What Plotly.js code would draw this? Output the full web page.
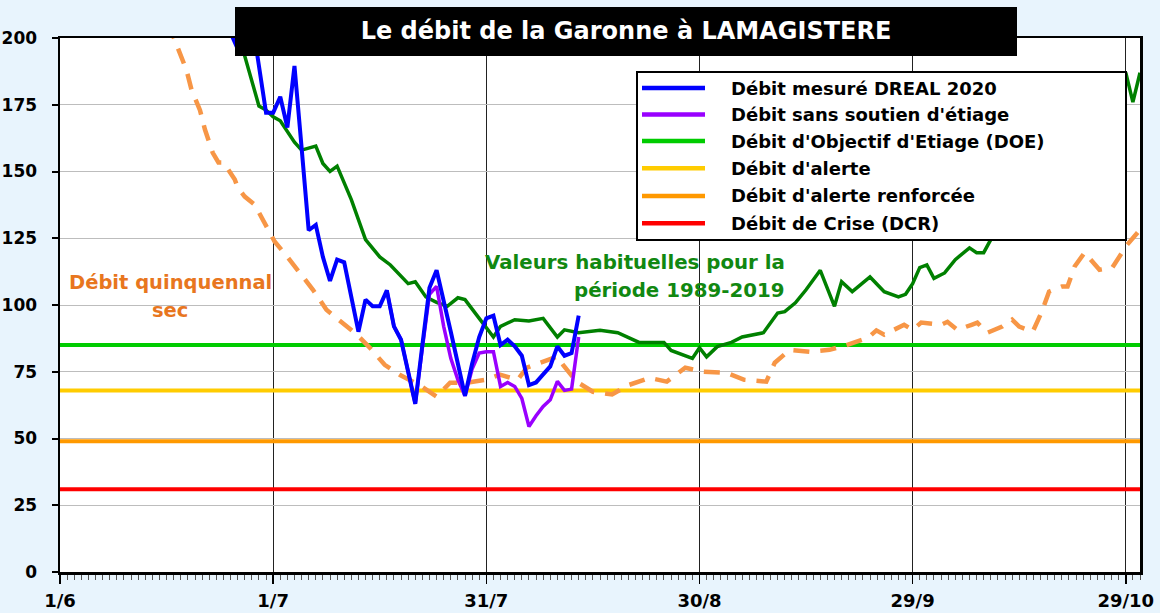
<!DOCTYPE html>
<html>
<head>
<meta charset="utf-8">
<script src="https://cdn.plot.ly/plotly-3.0.1.min.js"></script>
<style>
html,body{margin:0;padding:0;background:#E8F4FD;}
#chart{width:1160px;height:613px;}
</style>
</head>
<body>
<div id="chart"></div>
<script>
// ---- axis categories ----
const tickPositions = [0, 30, 60, 90, 120, 150];           // days since 1 June
const tickLabels = ["1/6", "1/7", "31/7", "30/8", "29/9", "29/10"];

// ---- Débit mesuré DREAL 2020 (blue) ----
const measuredDays = [22,23,24,25,26,27,28,29,30,31,32,33,34,35,36,37,38,39,40,41,42,43,44,45,46,47,48,49,50,51,52,53,54,55,56,57,58,59,60,61,62,63,64,65,66,67,68,69,70,71,72,73];
const measuredFlow = [225,212,202,196,200,207,189.5,172,172,178,166.5,189.5,159,128,130,118,109,117,116,103,90,102,99.5,99.5,105.5,92,87,75,63,85,106.5,113,102,90,78,66,78,88,95,96,85,87,84.5,81,70,71,74,77,84.5,81,82,96];

// ---- Débit sans soutien d'étiage (purple) ----
const naturalDays = [46,47,48,49,50,51,52,53,54,55,56,57,58,59,60,61,62,63,64,65,66,67,68,69,70,71,72,73];
const naturalFlow = [105.5,92,87,75,63,84,104,107,92,80,72,66,76,82,82.5,82.5,69.5,71,69.5,65,54.5,58.5,62,64.5,71.4,68,68.5,88];

// ---- Valeurs habituelles 1989-2019 (dark green) ----
const usualDays = [24,26,28,29,30,31,33,34,36,37,38,39,41,43,45,46.5,49,50,51.5,53,54.5,56,57,59,61,62,64,66,68,70,71,73,76,78.5,81.5,85,86,89,90,91,92.5,94.5,96,99,101,102,103.5,105,107,109,110,111.5,114,116,118,119,120,121,122,123,124.5,126,128,129,130,131,133,135,137,139,141,143,145,147,149,150,151,152];
const usualFlow = [212,193,174.5,173,170.5,169,161,158,159.5,153,150,152,139.5,124.5,118,115,108,108.7,103,101,99.5,102.7,102,95,88,92,94.5,94,95,88,90.7,89.6,90.5,89.6,86,86,83,80,84,80.6,84.4,86,88,89.6,97,97.5,100.8,105.7,113,99.5,108.7,105,110.5,105,103,104,108,114,115,110,112,117,121.4,119.6,119.6,124.5,130,138,145,150,158,165,172,178,183,187,176,187];

// ---- Débit quinquennal sec (orange dashed) ----
const dryDays = [14,15,17.8,18.5,19.7,20.4,21.5,22.3,23,24.6,25,26,27.4,28.8,30.2,32,34,35.6,37.5,39.4,41.8,43.6,45.7,47.8,50.6,53,54.9,57.2,60,61.9,64.4,65.7,68.6,70,70.8,72.7,75,77.7,80,83,85.4,88,90.5,93.8,96.3,99.4,100.6,102.7,105.5,108.3,110.7,113.7,114.9,116,118.8,120,121.2,124,124.9,126.3,128.3,129.1,130.5,132.6,134,135,136.9,138.1,139.2,141,141.8,142.8,144.2,146.3,148.1,148.7,150.2,152];
const dryFlow = [215,207,188,180.7,173,165.7,157,153.4,153.4,147,144,140.6,137.6,130.8,123.8,118,111.4,105.7,98.2,93.9,88.9,84,77.6,73.9,70,65.7,70.9,70.9,72,73.9,72,76.5,79.5,80.7,77.6,71.3,67.5,66.5,70,72.7,71.3,76.5,75,74.6,72,71.3,78.4,83.2,82.5,83.2,85,87.7,90.5,88.9,92.6,90.7,93.4,92.6,93.7,90.7,92.6,93.4,89.6,91.9,94.5,91.9,90,97,105,106.9,106.9,114.4,119.6,113.2,114,116.3,122.6,128.2];

// ---- thresholds ----
const thresholdNames = ["Débit d'Objectif d'Etiage (DOE)", "Débit d'alerte", "Débit d'alerte renforcée", "Débit de Crise (DCR)"];
const thresholdValues = [85, 68, 49, 31];
const seasonSpan = [0, 152];

// ---- legend labels ----
const legendLabels = ["Débit mesuré DREAL 2020", "Débit sans soutien d'étiage", "Débit d'Objectif d'Etiage (DOE)", "Débit d'alerte", "Débit d'alerte renforcée", "Débit de Crise (DCR)"];

// ---- styles ----
const FONT = "DejaVu Sans";
const thresholdColors = ["#00CC00", "#FFCC00", "#FF9900", "#FF0000"];
const legendColors = ["#0000FF", "#9900FF", "#00CC00", "#FFCC00", "#FF9900", "#FF0000"];

const traces = [];
thresholdValues.forEach((v, i) => {
  traces.push({
    type: 'scatter', mode: 'lines', name: thresholdNames[i],
    x: seasonSpan, y: [v, v],
    line: {color: thresholdColors[i], width: 4}
  });
});
traces.push({type:'scatter', mode:'lines', name:'Valeurs habituelles 1989-2019',
  x: usualDays, y: usualFlow, line:{color:'#008000', width:3.5}});
traces.push({type:'scatter', mode:'lines', name:'Débit quinquennal sec',
  x: dryDays, y: dryFlow, line:{color:'#F79646', width:4.5, dash:'16px,11px'}});
traces.push({type:'scatter', mode:'lines', name:legendLabels[1],
  x: naturalDays, y: naturalFlow, line:{color:'#9900FF', width:3.5}});
traces.push({type:'scatter', mode:'lines', name:legendLabels[0],
  x: measuredDays, y: measuredFlow, line:{color:'#0000FF', width:4}});

// pixel helpers for paper coords (plot area 60..1140 x 38..572)
const PL = 60, PR = 1140, PT = 38, PB = 572;
const px = v => (v - PL) / (PR - PL);
const py = v => (PB - v) / (PB - PT);

const shapes = [];
// title box
shapes.push({type:'rect', xref:'paper', yref:'paper', x0:px(235), x1:px(1017), y0:py(56), y1:py(7),
  fillcolor:'#000000', line:{width:0}, layer:'above'});
// legend box
shapes.push({type:'rect', xref:'paper', yref:'paper', x0:px(637), x1:px(1126), y0:py(240), y1:py(72),
  fillcolor:'#FFFFFF', line:{color:'#000000', width:2}, layer:'above'});
const rowY = [88, 114.5, 141, 168.3, 196, 223.3];
const annotations = [];
legendLabels.forEach((lab, i) => {
  shapes.push({type:'line', xref:'paper', yref:'paper', x0:px(642), x1:px(705), y0:py(rowY[i]), y1:py(rowY[i]),
    line:{color:legendColors[i], width:4.5}, layer:'above'});
  annotations.push({xref:'paper', yref:'paper', x:px(729), y:py(rowY[i]), xanchor:'left', yanchor:'middle',
    text: lab, showarrow:false, font:{family:FONT, size:18, color:'#000000', weight:'bold'}});
});
// series labels
annotations.push({xref:'x', yref:'y', x:15.5, y:108.6, xanchor:'center', yanchor:'middle', showarrow:false,
  text:'Débit quinquennal', font:{family:FONT, size:19.5, color:'#E8761E', weight:'bold'}});
annotations.push({xref:'x', yref:'y', x:15.5, y:98.1, xanchor:'center', yanchor:'middle', showarrow:false,
  text:'sec', font:{family:FONT, size:19.5, color:'#E8761E', weight:'bold'}});
annotations.push({xref:'x', yref:'y', x:102.3, y:116.1, xanchor:'right', yanchor:'middle', showarrow:false,
  text:'Valeurs habituelles pour la', font:{family:FONT, size:19.8, color:'#118811', weight:'bold'}});
annotations.push({xref:'x', yref:'y', x:102.3, y:105.6, xanchor:'right', yanchor:'middle', showarrow:false,
  text:'période 1989-2019', font:{family:FONT, size:19.8, color:'#118811', weight:'bold'}});

const xTickFont = {family:FONT, size:18, color:'#000000', weight:'bold'};
const yTickFont = {family:FONT, size:17, color:'#000000', weight:'bold'};

const layout = {
  width:1160, height:613,
  margin:{l:PL, r:1160-PR, t:PT, b:613-PB, pad:0},
  paper_bgcolor:'#E8F4FD', plot_bgcolor:'#FFFFFF',
  showlegend:false,
  title:{text:'Le débit de la Garonne à LAMAGISTERE', xref:'container', x:626/1160, xanchor:'center',
         yref:'container', y:1-31/613, yanchor:'middle',
         font:{family:FONT, size:24, color:'#FFFFFF', weight:'bold'}},
  xaxis:{range:[0,152], tickvals:tickPositions, ticktext:tickLabels, ticks:'outside', ticklen:9, tickwidth:1.5,
         tickcolor:'#000', showgrid:true, gridcolor:'#222222', gridwidth:1, showline:true, linecolor:'#000',
         linewidth:2.5, mirror:true, zeroline:false, tickfont:xTickFont, ticklabelstandoff:2,
         minor:{dtick:1, tick0:0, ticks:'outside', ticklen:5, tickwidth:1, tickcolor:'#555', showgrid:false}},
  yaxis:{range:[0,200], tick0:0, dtick:25, ticks:'outside', ticklen:6, tickwidth:2, tickcolor:'#000',
         showgrid:true, gridcolor:'#BDBDBD', gridwidth:1, showline:true, linecolor:'#000', linewidth:2.5,
         mirror:true, zeroline:false, tickfont:yTickFont, ticklabelstandoff:11},
  shapes: shapes,
  annotations: annotations
};

Plotly.newPlot('chart', traces, layout, {staticPlot:true, displayModeBar:false});
</script>
</body>
</html>
